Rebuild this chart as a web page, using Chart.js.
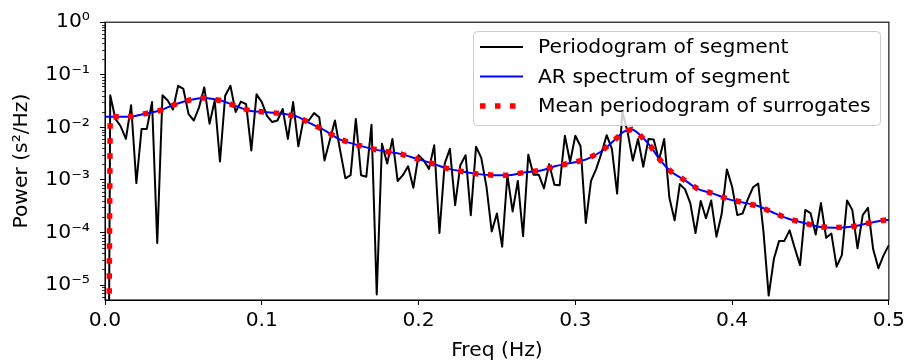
<!DOCTYPE html>
<html>
<head>
<meta charset="utf-8">
<script src="https://cdn.jsdelivr.net/npm/chart.js@4.4.1/dist/chart.umd.min.js"></script>
<style>
    html, body { margin: 0; padding: 0; background: #fff; }
    #chart { display: block; }
</style>
</head>
<body>
<canvas id="chart" width="909" height="363"></canvas>
<script>
// Periodogram of the segment: bins k/300 Hz, k = 0..150, stored as log10(power).
// Bin 0 is ~0 after detrending, so it sits far below the axis.
const SEGMENT_LENGTH = 300;
const periodogramLog = [
    -20,
    -1.39, -1.84, -1.98, -2.22, -1.58, -3.06, -2.03, -2.03, -1.52, -4.20,
    -1.39, -1.49, -1.66, -1.21, -1.27, -1.75, -1.87, -1.62, -1.24, -1.93,
    -1.49, -2.65, -1.40, -1.21, -1.71, -1.51, -1.56, -2.44, -1.37, -1.52,
    -1.78, -1.90, -1.87, -1.65, -2.22, -1.52, -2.36, -1.84, -1.87, -1.73,
    -1.81, -2.63, -2.25, -1.87, -2.44, -2.97, -2.91, -1.84, -2.91, -2.94,
    -1.95, -5.18, -2.31, -2.69, -2.22, -3.02, -2.91, -2.74, -3.15, -2.53,
    -2.63, -2.79, -2.34, -4.01, -2.69, -2.41, -3.48, -2.72, -2.53, -3.67,
    -2.37, -2.58, -3.13, -3.98, -3.64, -4.27, -2.91, -3.60, -3.02, -4.07,
    -2.52, -2.90, -2.90, -3.16, -2.70, -3.09, -3.10, -2.16, -2.66, -2.16,
    -2.36, -3.82, -3.02, -2.79, -2.49, -2.15, -2.41, -3.26, -1.70, -2.09,
    -2.63, -2.22, -2.75, -2.22, -2.23, -2.63, -2.22, -3.34, -3.77, -3.08,
    -3.18, -3.44, -4.01, -3.40, -3.73, -3.39, -4.08, -3.65, -2.80, -3.13,
    -3.67, -3.64, -3.37, -3.14, -3.07, -3.98, -5.20, -4.50, -4.16, -4.16,
    -3.96, -4.30, -4.62, -3.57, -3.63, -4.04, -3.44, -4.10, -4.02, -4.65,
    -4.43, -3.39, -3.57, -4.30, -3.67, -3.53, -4.32, -4.68, -4.43, -4.24
];
const periodogramFreq = periodogramLog.map((_, k) => k / SEGMENT_LENGTH);

// AR spectrum of the segment (smooth curve), log10(power)
const arFreq = [
    0, 0.005, 0.015, 0.024, 0.035, 0.044, 0.054, 0.063, 0.074, 0.083,
    0.093, 0.102, 0.113, 0.123, 0.132, 0.141, 0.149, 0.159, 0.169, 0.179,
    0.189, 0.199, 0.208, 0.218, 0.228, 0.238, 0.248, 0.258, 0.267, 0.278,
    0.287, 0.297, 0.307, 0.316, 0.324, 0.331, 0.336, 0.341, 0.348, 0.354,
    0.361, 0.370, 0.378, 0.388, 0.397, 0.407, 0.417, 0.426, 0.436, 0.446,
    0.455, 0.465, 0.476, 0.486, 0.496, 0.5
];
const arLog = [
    -1.80, -1.80, -1.80, -1.75, -1.68, -1.57, -1.48, -1.44, -1.49, -1.59,
    -1.69, -1.71, -1.74, -1.80, -1.94, -2.07, -2.22, -2.32, -2.40, -2.46,
    -2.51, -2.60, -2.68, -2.78, -2.84, -2.89, -2.91, -2.91, -2.86, -2.82,
    -2.74, -2.68, -2.61, -2.47, -2.27, -2.08, -2.04, -2.14, -2.36, -2.62,
    -2.84, -3.01, -3.17, -3.26, -3.36, -3.43, -3.50, -3.62, -3.74, -3.82,
    -3.89, -3.91, -3.89, -3.83, -3.77, -3.76
];

// Mean periodogram of the surrogates, log10(power)
const surrogateFreq = [
    0, 0.0033, 0.015, 0.024, 0.035, 0.044, 0.054, 0.063, 0.074, 0.083,
    0.093, 0.102, 0.113, 0.123, 0.132, 0.141, 0.149, 0.159, 0.169, 0.179,
    0.189, 0.199, 0.208, 0.218, 0.228, 0.238, 0.248, 0.258, 0.267, 0.278,
    0.287, 0.297, 0.307, 0.316, 0.324, 0.331, 0.336, 0.341, 0.348, 0.354,
    0.361, 0.370, 0.378, 0.388, 0.397, 0.407, 0.417, 0.426, 0.436, 0.446,
    0.455, 0.465, 0.476, 0.486, 0.496, 0.5
];
const surrogateLog = [
    -20, -1.80, -1.80, -1.75, -1.68, -1.57, -1.48, -1.44, -1.49, -1.59,
    -1.69, -1.71, -1.74, -1.80, -1.94, -2.07, -2.22, -2.32, -2.40, -2.46,
    -2.51, -2.60, -2.68, -2.78, -2.84, -2.89, -2.91, -2.91, -2.86, -2.82,
    -2.74, -2.68, -2.61, -2.47, -2.27, -2.08, -2.04, -2.14, -2.36, -2.62,
    -2.84, -3.01, -3.17, -3.26, -3.36, -3.43, -3.50, -3.62, -3.74, -3.82,
    -3.89, -3.91, -3.89, -3.83, -3.77, -3.76
];

// Axis ticks
const xTickStep = 0.1;
const yTickValues = [1e-5, 1e-4, 1e-3, 1e-2, 1e-1, 1];
const yTickLabels = ['10⁻⁵', '10⁻⁴', '10⁻³', '10⁻²', '10⁻¹', '10⁰'];

const FONT_FAMILY = '"DejaVu Sans", sans-serif';
const FONT_SIZE = 20.3;

function toPoints(freqs, logs) {
    return freqs.map((f, i) => ({ x: f, y: Math.pow(10, logs[i]) }));
}

// Minor log ticks on the y axis (2..9 x 10^n)
const minorTicksPlugin = {
    id: 'minorTicks',
    afterDraw(chart) {
        const scale = chart.scales.y;
        const ctx = chart.ctx;
        const left = chart.chartArea.left;
        ctx.save();
        ctx.strokeStyle = '#000';
        ctx.lineWidth = 0.8;
        for (let e = -6; e < 0; e++) {
            for (let m = 2; m <= 9; m++) {
                const v = m * Math.pow(10, e);
                if (v < scale.min || v > scale.max) continue;
                const py = Math.round(scale.getPixelForValue(v)) + 0.5;
                ctx.beginPath();
                ctx.moveTo(left - 3, py);
                ctx.lineTo(left, py);
                ctx.stroke();
            }
        }
        ctx.restore();
    }
};

// Box round the plot area, like matplotlib spines
const framePlugin = {
    id: 'frame',
    afterDatasetsDraw(chart) {
        const { left, top, right, bottom } = chart.chartArea;
        const ctx = chart.ctx;
        ctx.save();
        ctx.strokeStyle = '#000';
        ctx.lineWidth = 1.1;
        ctx.strokeRect(left, top, right - left, bottom - top);
        ctx.restore();
    }
};

// Legend box in the upper right of the plot area
const legendBoxPlugin = {
    id: 'legendBox',
    afterDatasetsDraw(chart) {
        const ctx = chart.ctx;
        const box = { x: 473, y: 31, w: 407, h: 94 };
        const rowY = [47, 76.5, 106];
        ctx.save();
        ctx.beginPath();
        ctx.roundRect(box.x + 0.5, box.y + 0.5, box.w, box.h, 4);
        ctx.fillStyle = 'rgba(255,255,255,0.8)';
        ctx.fill();
        ctx.strokeStyle = '#cccccc';
        ctx.lineWidth = 1;
        ctx.stroke();

        chart.data.datasets.forEach((ds, i) => {
            const y = rowY[i];
            ctx.beginPath();
            ctx.setLineDash(ds.borderDash || []);
            ctx.lineCap = 'butt';
            ctx.strokeStyle = ds.borderColor;
            ctx.lineWidth = ds.borderWidth;
            ctx.moveTo(480, y);
            ctx.lineTo(523, y);
            ctx.stroke();
            ctx.setLineDash([]);
            ctx.fillStyle = '#000';
            ctx.font = FONT_SIZE + 'px ' + FONT_FAMILY;
            ctx.textBaseline = 'middle';
            ctx.textAlign = 'left';
            ctx.fillText(ds.label, 538, y + 1);
        });
        ctx.restore();
    }
};

const ctx = document.getElementById('chart').getContext('2d');
new Chart(ctx, {
    type: 'line',
    data: {
        datasets: [
            {
                label: 'Periodogram of segment',
                data: toPoints(periodogramFreq, periodogramLog),
                borderColor: '#000000',
                borderWidth: 2,
                borderJoinStyle: 'round',
                pointRadius: 0,
                tension: 0,
                order: 3,
            },
            {
                label: 'AR spectrum of segment',
                data: toPoints(arFreq, arLog),
                borderColor: '#0000ff',
                borderWidth: 2,
                pointRadius: 0,
                cubicInterpolationMode: 'monotone',
                order: 2,
            },
            {
                label: 'Mean periodogram of surrogates',
                data: toPoints(surrogateFreq, surrogateLog),
                borderColor: '#ff0000',
                borderWidth: 5.5,
                borderDash: [5.5, 9.5],
                borderCapStyle: 'butt',
                pointRadius: 0,
                tension: 0,
                order: 1,
            }
        ]
    },
    options: {
        responsive: false,
        animation: false,
        devicePixelRatio: 1,
        layout: { padding: { top: 21, right: 19, bottom: 0, left: 0 } },
        plugins: {
            legend: { display: false },
            tooltip: { enabled: false },
        },
        scales: {
            x: {
                type: 'linear',
                min: 0,
                max: 0.5,
                afterFit(scale) { scale.height = 63; },
                ticks: {
                    stepSize: xTickStep,
                    maxRotation: 0,
                    padding: 4,
                    color: '#000',
                    font: { family: FONT_FAMILY, size: FONT_SIZE },
                    callback: (v) => Number(v).toFixed(1),
                },
                grid: { drawOnChartArea: false, tickLength: 5, color: '#000', tickWidth: 1 },
                border: { color: '#000', width: 1 },
                title: {
                    display: true,
                    text: 'Freq (Hz)',
                    color: '#000',
                    padding: { top: 0, bottom: 0 },
                    font: { family: FONT_FAMILY, size: FONT_SIZE },
                },
            },
            y: {
                type: 'logarithmic',
                min: 5.2e-6,
                max: 1,
                afterFit(scale) { scale.width = 105; },
                afterBuildTicks(scale) {
                    scale.ticks = yTickValues.map(v => ({ value: v, major: true }));
                },
                ticks: {
                    padding: 10,
                    color: '#000',
                    font: { family: FONT_FAMILY, size: FONT_SIZE },
                    callback: (v) => yTickLabels[Math.round(Math.log10(v)) + 5],
                },
                grid: { drawOnChartArea: false, tickLength: 5, color: '#000', tickWidth: 1 },
                border: { color: '#000', width: 1 },
                title: {
                    display: true,
                    text: 'Power (s²/Hz)',
                    color: '#000',
                    padding: { top: 10, bottom: 0 },
                    font: { family: FONT_FAMILY, size: FONT_SIZE },
                },
            },
        },
    },
    plugins: [minorTicksPlugin, framePlugin, legendBoxPlugin],
});
</script>
</body>
</html>
